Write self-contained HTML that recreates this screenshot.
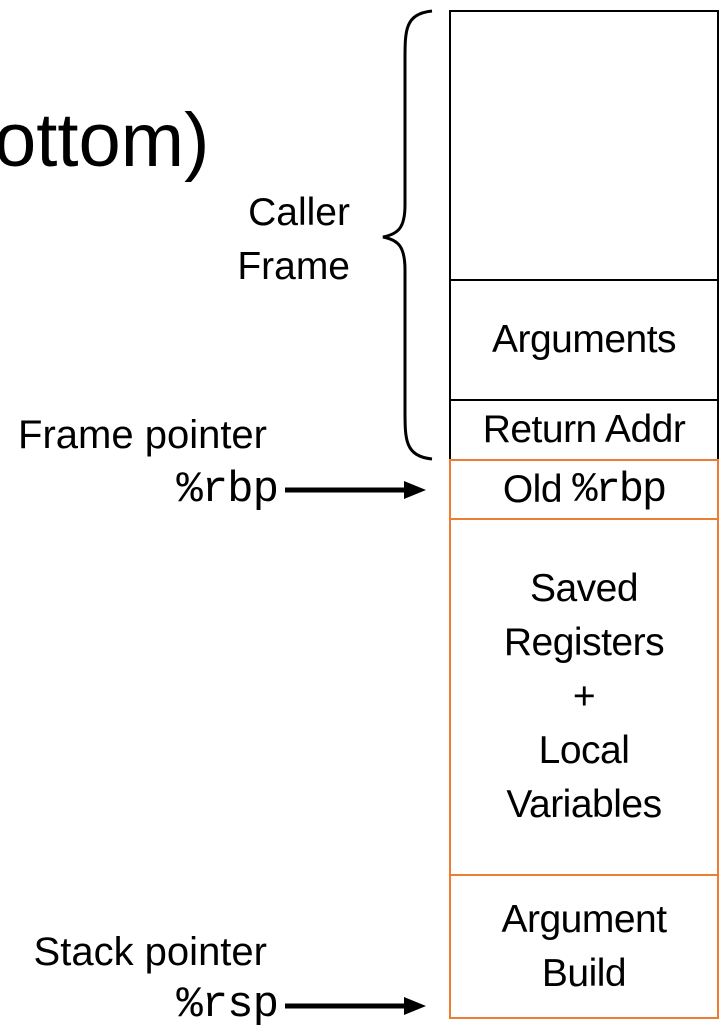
<!DOCTYPE html>
<html><head><style>
body{margin:0;width:728px;height:1032px;overflow:hidden;background:#fff;position:relative;font-family:"Liberation Sans",sans-serif;color:#000}
.t{position:absolute;white-space:nowrap;line-height:54px}
.m{font-family:"Liberation Mono",monospace;font-size:44px}
.box{position:absolute;left:449px;width:270px;box-sizing:border-box;display:flex;align-items:center;justify-content:center;text-align:center;font-size:39px;line-height:54px;letter-spacing:-0.5px}
</style></head><body>
<div class="t" style="left:-6px;top:96px;font-size:76px;line-height:90px;letter-spacing:0px">ottom)</div>

<div class="box" style="top:10px;height:271px;border:2px solid #000;"></div>
<div class="box" style="top:279px;height:122px;border:2px solid #000;">Arguments</div>
<div class="box" style="top:399px;height:62px;border:2px solid #000;">Return Addr</div>
<div class="box" style="top:459px;height:61px;border:2px solid #ED7D31;">Old&nbsp;<span class="m" style="font-size:42px;letter-spacing:-2px">%rbp</span></div>
<div class="box" style="top:518px;height:358px;border:2px solid #ED7D31;">Saved<br>Registers<br>+<br>Local<br>Variables</div>
<div class="box" style="top:874px;height:145px;border:2px solid #ED7D31;">Argument<br>Build</div>

<svg style="position:absolute;left:0;top:0" width="728" height="1032">
<path d="M432 11 C405 14 405 30 405 60 L405 205 C405 228 398 234 383 237 C398 240 405 246 405 270 L405 410 C405 440 405 456 432 459" fill="none" stroke="#000" stroke-width="3"/>
<line x1="285" y1="490" x2="410" y2="490" stroke="#000" stroke-width="5"/>
<polygon points="404,481 426,490 404,499" fill="#000"/>
<line x1="285" y1="1006" x2="410" y2="1006" stroke="#000" stroke-width="5"/>
<polygon points="404,997 426,1006 404,1015" fill="#000"/>
</svg>

<div class="t" style="right:378px;top:186px;font-size:39px;text-align:right;letter-spacing:0px">Caller<br>Frame</div>
<div class="t" style="right:461px;top:408px;font-size:40px;letter-spacing:0px">Frame pointer</div>
<div class="t m" style="right:450px;top:463px;letter-spacing:-1px">%rbp</div>
<div class="t" style="right:461px;top:925px;font-size:40px;letter-spacing:0px">Stack pointer</div>
<div class="t m" style="right:450px;top:978px;letter-spacing:-1px">%rsp</div>
</body></html>
